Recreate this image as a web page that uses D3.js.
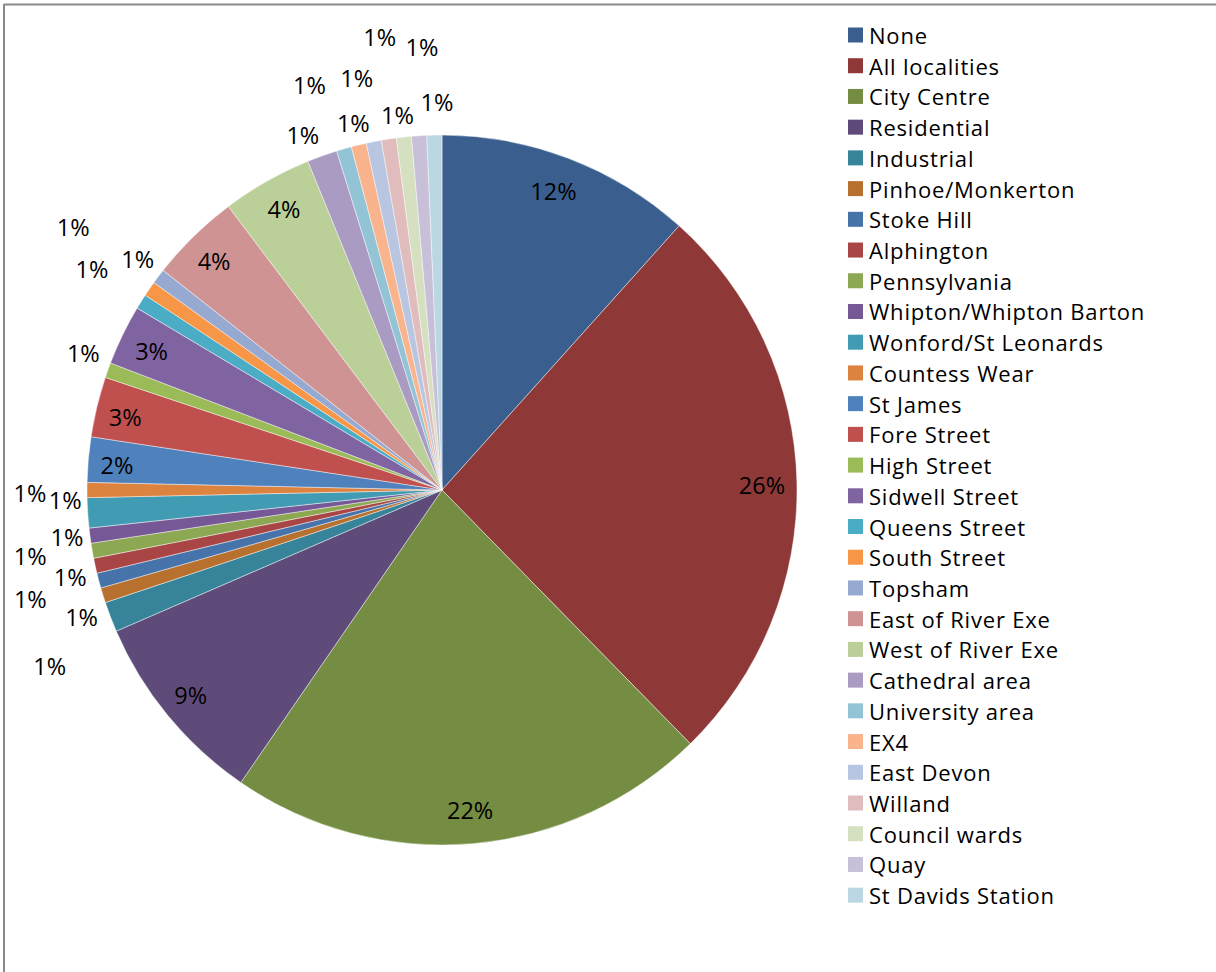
<!DOCTYPE html>
<html>
<head>
<meta charset="utf-8">
<script src="https://cdn.jsdelivr.net/npm/d3@7/dist/d3.min.js"></script>
<style>
  html, body { margin: 0; padding: 0; background: #fff; }
  svg { display: block; }
</style>
</head>
<body>
<svg id="chart" width="1216" height="972"></svg>
<script>
// ---- Data ----
const categories = [
  "None", "All localities", "City Centre", "Residential", "Industrial",
  "Pinhoe/Monkerton", "Stoke Hill", "Alphington", "Pennsylvania",
  "Whipton/Whipton Barton", "Wonford/St Leonards", "Countess Wear",
  "St James", "Fore Street", "High Street", "Sidwell Street",
  "Queens Street", "South Street", "Topsham", "East of River Exe",
  "West of River Exe", "Cathedral area", "University area", "EX4",
  "East Devon", "Willand", "Council wards", "Quay", "St Davids Station"
];
const counts = [17, 38, 32, 13, 2, 1, 1, 1, 1, 1, 2, 1, 3, 4, 1, 4, 1, 1, 1, 6, 6, 2, 1, 1, 1, 1, 1, 1, 1];

const colors = [
  "#3A5F8F", "#8E3937", "#748D42", "#5F4B7A", "#37849A",
  "#B8702F", "#4674AA", "#A94544", "#8DA852", "#755895",
  "#419BB3", "#DD8340", "#4F81BD", "#C0504D", "#9BBB59",
  "#8064A2", "#4BACC6", "#F79646", "#95A9D1", "#D09393",
  "#BBCF98", "#A99BC2", "#93C4D5", "#F9B48E", "#B9C6E1",
  "#E0BCBC", "#D5E0C1", "#C8C0D9", "#BAD7E3"
];

// ---- Layout (label placement: radius from centre, angular nudge in degrees) ----
const labelRadius = [319, 320, 321, 324, 430, 382, 426, 382, 417, 378, 377, 412, 326, 325, 384,
                     322, 414, 453, 382, 323, 322, 381, 426, 378, 421, 457, 378, 443, 388];
const labelNudge = [-0.5, 0.3, -0.1, 0.3, -3.2, -2.1, -0.1, -0.9, 0.8, 0.3, 2.2, -0.4, -0.5, -0.6, 1.2,
                    -0.3, 0.2, 1.0, 0.2, -0.5, 0.2, -1.7, -2.1, 0, -0.6, 0.8, -0.6, 1.1, 0.5];

const W = 1216, H = 972;
const cx = 442, cy = 490, R = 355;
const FONT = "'Open Sans', 'Noto Sans', sans-serif";

const svg = d3.select("#chart");

// frame (left and top edges visible)
svg.append("line").attr("x1", 4).attr("y1", 4.5).attr("x2", W).attr("y2", 4.5)
  .attr("stroke", "#898989").attr("stroke-width", 2);
svg.append("line").attr("x1", 4).attr("y1", 4).attr("x2", 4).attr("y2", H)
  .attr("stroke", "#898989").attr("stroke-width", 2);

const data = categories.map((c, i) => ({ name: c, value: counts[i], i }));
const total = d3.sum(counts);

const pie = d3.pie().value(d => d.value).sort(null).startAngle(0).endAngle(2 * Math.PI);
const arcs = pie(data);
const arc = d3.arc().innerRadius(0).outerRadius(R);

const g = svg.append("g").attr("transform", `translate(${cx},${cy})`);

g.selectAll("path.slice").data(arcs).enter().append("path")
  .attr("class", "slice")
  .attr("d", arc)
  .attr("fill", d => colors[d.data.i])
  .attr("stroke", "rgba(255,255,255,0.55)")
  .attr("stroke-width", 0.8);

const fmt = v => Math.round(v / total * 100) + "%";

g.selectAll("text.lbl").data(arcs).enter().append("text")
  .attr("class", "lbl")
  .attr("transform", d => {
    const i = d.data.i;
    const a = (d.startAngle + d.endAngle) / 2 + labelNudge[i] * Math.PI / 180;
    const r = labelRadius[i];
    const p = d3.arc().innerRadius(r).outerRadius(r).centroid({ startAngle: a, endAngle: a });
    return `translate(${p[0]},${p[1]})`;
  })
  .attr("text-anchor", "middle")
  .attr("dominant-baseline", "central")
  .attr("font-family", FONT)
  .attr("font-size", 23.5)
  .attr("fill", "#000")
  .text(d => fmt(d.data.value));

// legend
const legendX = 848, legendY0 = 35, legendStep = 30.72;
const leg = svg.append("g");
const items = leg.selectAll("g").data(data).enter().append("g")
  .attr("transform", (d, i) => `translate(${legendX},${legendY0 + i * legendStep})`);
items.append("rect").attr("x", 0).attr("y", -7.5).attr("width", 15).attr("height", 15)
  .attr("fill", d => colors[d.i]);
items.append("text").attr("x", 21).attr("y", 0)
  .attr("dominant-baseline", "central")
  .attr("font-family", FONT).attr("font-size", 22).attr("letter-spacing", 0.8).attr("fill", "#000")
  .text(d => d.name);
</script>
</body>
</html>
